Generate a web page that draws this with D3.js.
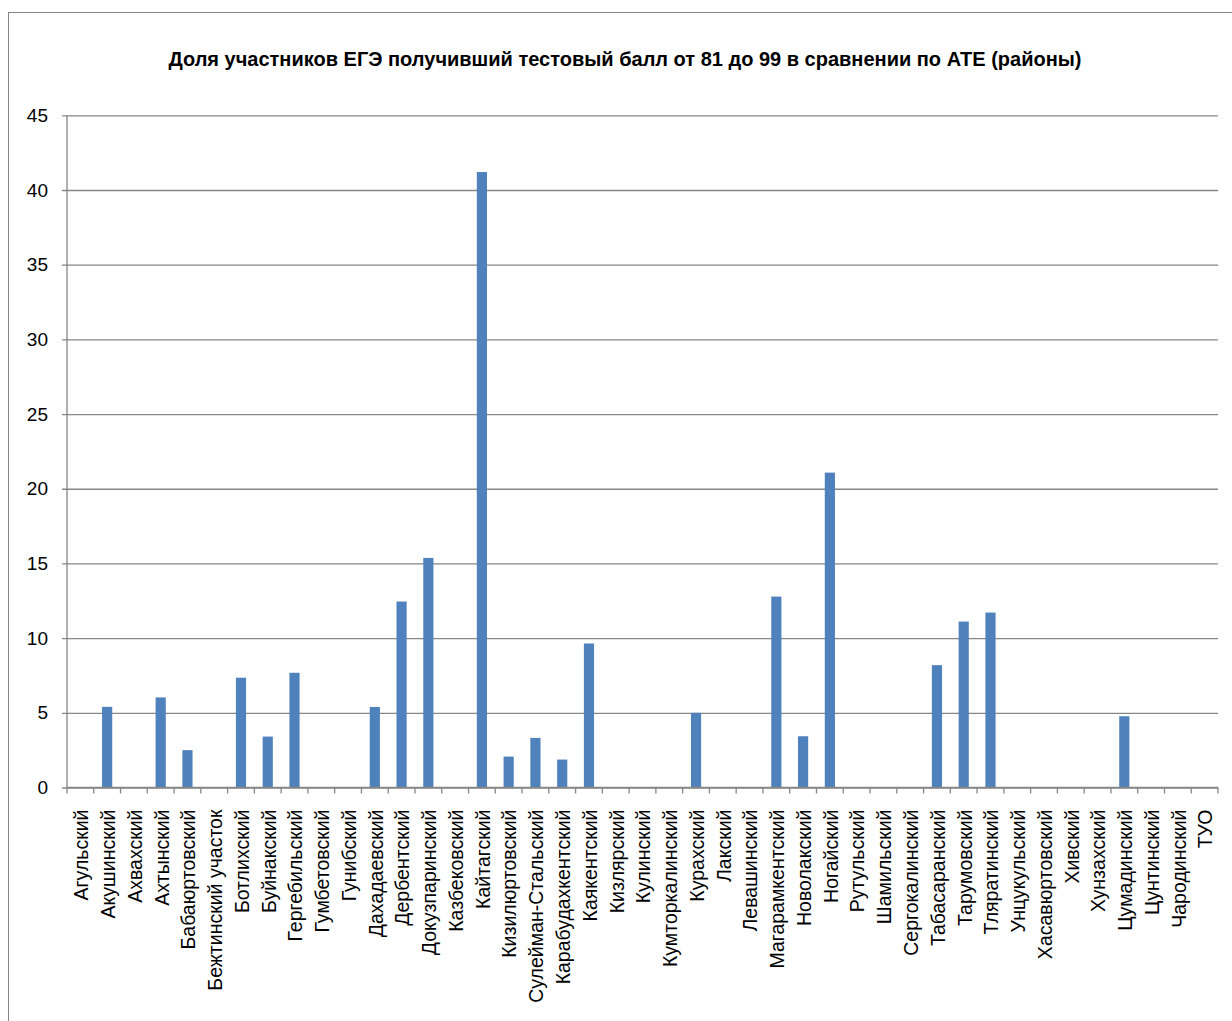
<!DOCTYPE html>
<html>
<head>
<meta charset="utf-8">
<script src="https://cdn.jsdelivr.net/npm/d3@7"></script>
<style>
  html, body { margin: 0; padding: 0; background: #ffffff; }
  svg { display: block; }
  text { font-family: "Liberation Sans", Arial, sans-serif; fill: #000; }
</style>
</head>
<body>
<svg id="chart" width="1232" height="1021"></svg>
<script>
// Districts (ATE) along the x axis
const districts = [
  "Агульский", "Акушинский", "Ахвахский", "Ахтынский", "Бабаюртовский",
  "Бежтинский участок", "Ботлихский", "Буйнакский", "Гергебильский", "Гумбетовский",
  "Гунибский", "Дахадаевский", "Дербентский", "Докузпаринский", "Казбековский",
  "Кайтагский", "Кизилюртовский", "Сулейман-Стальский", "Карабудахкентский", "Каякентский",
  "Кизлярский", "Кулинский", "Кумторкалинский", "Курахский", "Лакский",
  "Левашинский", "Магарамкентский", "Новолакский", "Ногайский", "Рутульский",
  "Шамильский", "Сергокалинский", "Табасаранский", "Тарумовский", "Тляратинский",
  "Унцукульский", "Хасавюртовский", "Хивский", "Хунзахский", "Цумадинский",
  "Цунтинский", "Чародинский", "ТУО"
];

// Share of participants (%) scoring 81–99
const shares = [
  0, 5.4, 0, 6.03, 2.5,
  0, 7.35, 3.41, 7.68, 0,
  0, 5.39, 12.45, 15.37, 0,
  41.2, 2.07, 3.32, 1.87, 9.64,
  0, 0, 0, 5.0, 0,
  0, 12.78, 3.43, 21.08, 0,
  0, 0, 8.19, 11.11, 11.71,
  0, 0, 0, 0, 4.77,
  0, 0, 0
];

const yTicks = [0, 5, 10, 15, 20, 25, 30, 35, 40, 45];

const titleText = "Доля участников ЕГЭ получивший тестовый балл от 81 до 99 в сравнении по АТЕ (районы)";

const svg = d3.select("#chart");
const gridColor = "#868686";

const plot = { left: 67, right: 1218, top: 115.3, bottom: 787.5 };

// Chart frame
svg.append("rect")
  .attr("x", 8.5).attr("y", 12.5)
  .attr("width", 1300).attr("height", 1100)
  .attr("fill", "#fff")
  .attr("stroke", gridColor).attr("stroke-width", 1);

const x = d3.scaleBand()
  .domain(districts)
  .range([plot.left, plot.right])
  .paddingInner(0.62)
  .paddingOuter(0.31);

const y = d3.scaleLinear()
  .domain([0, 45])
  .range([plot.bottom, plot.top]);

// Title
svg.append("text")
  .attr("x", 625).attr("y", 66)
  .attr("text-anchor", "middle")
  .style("font-weight", "bold")
  .style("font-size", "20px")
  .text(titleText);

// Horizontal gridlines with y axis labels
const yAxis = d3.axisLeft(y)
  .tickValues(yTicks)
  .tickSize(plot.right - plot.left + 5)
  .tickPadding(14)
  .tickFormat(d3.format("d"));

const gy = svg.append("g")
  .attr("transform", `translate(${plot.right},0)`)
  .call(yAxis);
gy.select(".domain").remove();
gy.selectAll(".tick line")
  .attr("stroke", gridColor).attr("stroke-width", 1.3);
gy.selectAll(".tick text")
  .attr("x", -(plot.right - plot.left) - 19)
  .style("font-size", "19px");

// Vertical axis line
svg.append("line")
  .attr("x1", plot.left).attr("x2", plot.left)
  .attr("y1", plot.top).attr("y2", plot.bottom)
  .attr("stroke", gridColor).attr("stroke-width", 1.3);

// Bars
svg.append("g")
  .selectAll("rect")
  .data(districts)
  .join("rect")
  .attr("x", d => x(d))
  .attr("width", x.bandwidth())
  .attr("y", (d, i) => y(shares[i]))
  .attr("height", (d, i) => y(0) - y(shares[i]))
  .attr("fill", "#4F81BD");

// Category axis: baseline, boundary ticks and rotated labels
const step = x.step();
const boundaries = d3.range(districts.length + 1).map(i => plot.left + i * step);

svg.append("line")
  .attr("x1", plot.left).attr("x2", plot.right)
  .attr("y1", plot.bottom).attr("y2", plot.bottom)
  .attr("stroke", gridColor).attr("stroke-width", 1.3);

svg.append("g")
  .selectAll("line")
  .data(boundaries)
  .join("line")
  .attr("x1", d => d).attr("x2", d => d)
  .attr("y1", plot.bottom).attr("y2", plot.bottom + 6)
  .attr("stroke", gridColor).attr("stroke-width", 1.3);

svg.append("g")
  .selectAll("text")
  .data(districts)
  .join("text")
  .attr("transform", d => `translate(${x(d) + x.bandwidth() / 2 + 1},${plot.bottom + 22}) rotate(-90)`)
  .attr("text-anchor", "end")
  .attr("dy", "0.35em")
  .style("font-size", "19.5px")
  .text(d => d);
</script>
</body>
</html>
